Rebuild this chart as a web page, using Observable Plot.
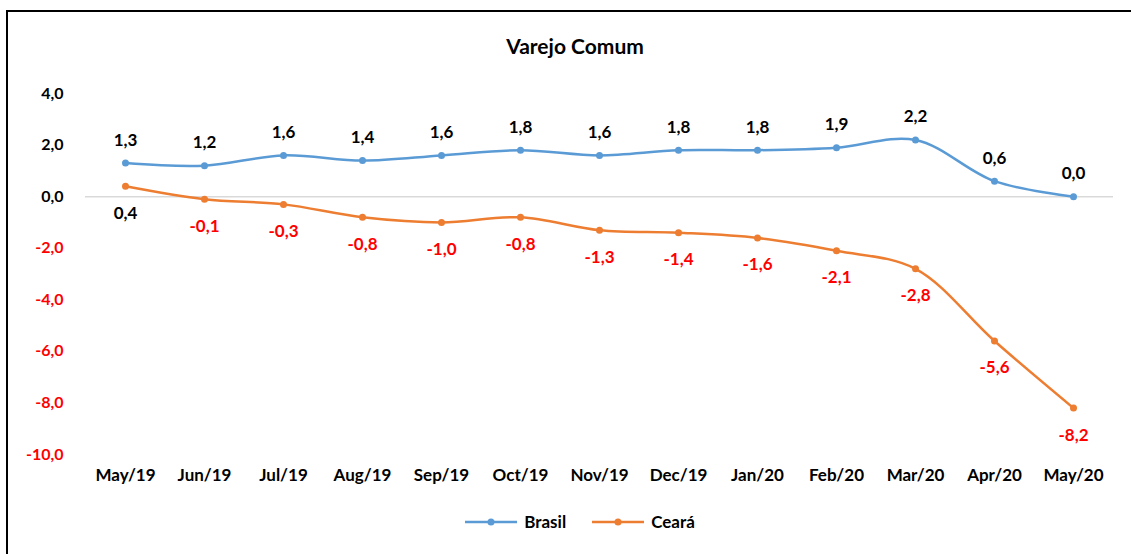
<!DOCTYPE html>
<html>
<head>
<meta charset="utf-8">
<script src="https://cdn.jsdelivr.net/npm/d3@7"></script>
<script src="https://cdn.jsdelivr.net/npm/@observablehq/plot@0.6"></script>
<style>
  html, body { margin: 0; padding: 0; background: #fff; overflow: hidden; }
  #wrap { position: relative; width: 1131px; height: 554px; font-family: Lato, "Open Sans", sans-serif; font-weight: bold; }
  #frame { position: absolute; left: 6px; top: 10px; width: 1200px; height: 600px; border-left: 2px solid #000; border-top: 2px solid #000; }
  #title { position: absolute; left: 0; width: 1150px; top: 33px; text-align: center; font-size: 21px; color: #000; }
  #chart { position: absolute; left: 0; top: 70px; }
  #legend { position: absolute; left: 0; width: 1160px; top: 511px; display: flex; justify-content: center; gap: 26px; font-size: 17px; color: #000; }
  .item { display: flex; align-items: center; gap: 7px; }
</style>
</head>
<body>
<div id="wrap">
  <div id="frame"></div>
  <div id="title">Varejo Comum</div>
  <div id="chart"></div>
  <div id="legend"></div>
</div>
<script>
const months = ["May/19","Jun/19","Jul/19","Aug/19","Sep/19","Oct/19","Nov/19","Dec/19","Jan/20","Feb/20","Mar/20","Apr/20","May/20"];
const brasil = [1.3, 1.2, 1.6, 1.4, 1.6, 1.8, 1.6, 1.8, 1.8, 1.9, 2.2, 0.6, 0.0];
const ceara = [0.4, -0.1, -0.3, -0.8, -1.0, -0.8, -1.3, -1.4, -1.6, -2.1, -2.8, -5.6, -8.2];
const seriesNames = ["Brasil", "Ceará"];
const seriesColors = ["#5B9BD5", "#ED7D31"];
const yTicksPos = [0, 2, 4];
const yTicksNeg = [-10, -8, -6, -4, -2];

const fmt = v => v.toFixed(1).replace(".", ",");
const bData = months.map((m, i) => ({m, v: brasil[i]}));
const cData = months.map((m, i) => ({m, v: ceara[i]}));

const chart = Plot.plot({
  width: 1131,
  height: 425,
  marginLeft: 85,
  marginRight: 18,
  marginTop: 23,
  marginBottom: 41,
  style: {fontFamily: "Lato, 'Open Sans', sans-serif", fontSize: "17px", fontWeight: "bold", overflow: "visible", background: "transparent"},
  x: {type: "point", domain: months, padding: 0.5},
  y: {domain: [-10, 4]},
  marks: [
    Plot.ruleY([0], {stroke: "#d9d9d9", strokeWidth: 1.5}),
    Plot.axisX({tickSize: 0, tickPadding: 14, label: null, fill: "#000", fontSize: 17}),
    Plot.axisY({ticks: yTicksPos, tickSize: 0, tickPadding: 22, label: null, tickFormat: fmt, fill: "#000", fontSize: 16}),
    Plot.axisY({ticks: yTicksNeg, tickSize: 0, tickPadding: 22, label: null, tickFormat: fmt, fill: "#FF0000", fontSize: 16}),
    Plot.line(bData, {x: "m", y: "v", stroke: seriesColors[0], strokeWidth: 2.5, curve: "catmull-rom"}),
    Plot.line(cData, {x: "m", y: "v", stroke: seriesColors[1], strokeWidth: 2.5, curve: "catmull-rom"}),
    Plot.dot(bData, {x: "m", y: "v", fill: seriesColors[0], r: 3.5}),
    Plot.dot(cData, {x: "m", y: "v", fill: seriesColors[1], r: 3.5}),
    Plot.text(bData, {x: "m", y: "v", text: d => fmt(d.v), dy: -23, fill: "#000", fontSize: 17}),
    Plot.text(cData, {x: "m", y: "v", text: d => fmt(d.v), dy: 27, fill: "#000", fontSize: 17, filter: d => d.v >= 0}),
    Plot.text(cData, {x: "m", y: "v", text: d => fmt(d.v), dy: 27, fill: "#FF0000", fontSize: 17, filter: d => d.v < 0})
  ]
});
document.getElementById("chart").appendChild(chart);

const legend = document.getElementById("legend");
seriesNames.forEach((name, i) => {
  const item = document.createElement("div");
  item.className = "item";
  item.innerHTML = `<svg width="52" height="10"><line x1="0" y1="5" x2="52" y2="5" stroke="${seriesColors[i]}" stroke-width="2.5"/><circle cx="26" cy="5" r="3.5" fill="${seriesColors[i]}"/></svg><span>${name}</span>`;
  legend.appendChild(item);
});
</script>
</body>
</html>
